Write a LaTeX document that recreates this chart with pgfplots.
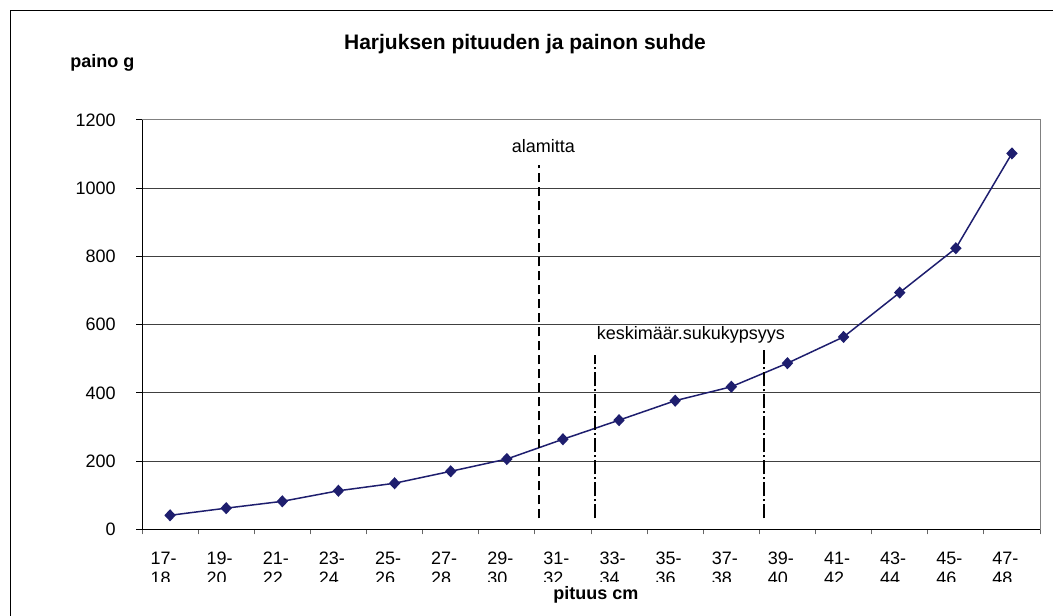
\documentclass[border=0pt]{standalone}
\usepackage{pgfplots}
\pgfplotsset{compat=1.18}
\usepackage{fontspec}
\setmainfont{Liberation Sans}
\definecolor{navy}{RGB}{30,30,110}
\begin{document}
\begin{tikzpicture}[x=0.5pt,y=0.5pt]
\clip (0,0) rectangle (1053,615);
\begin{axis}[
  at={(71pt,42.85pt)}, anchor=south west,
  scale only axis, width=449pt, height=204.65pt,
  xmin=0.5, xmax=16.5, ymin=0, ymax=1200,
  axis line style={draw=black!50, line width=0.5pt},
  xtick pos=bottom, ytick pos=left,
  tick align=outside, major tick length=3pt, minor tick length=2.5pt,
  xtick={1,...,16},
  xticklabels={{17-\\18},{19-\\20},{21-\\22},{23-\\24},{25-\\26},{27-\\28},{29-\\30},{31-\\32},{33-\\34},{35-\\36},{37-\\38},{39-\\40},{41-\\42},{43-\\44},{45-\\46},{47-\\48}},
  major x tick style={draw=none},
  minor xtick={0.5,1.5,...,16.5},
  minor x tick style={draw=black!60, line width=0.5pt},
  ytick={0,200,...,1200},
  major y tick style={draw=black, line width=0.5pt},
  ymajorgrids, grid style={black!75, line width=0.5pt},
  yticklabel style={anchor=east, inner sep=0pt, font=\fontsize{9}{10}\selectfont, xshift=-10pt},
  xticklabel style={anchor=north, inner sep=0pt, align=left, font=\fontsize{9}{10}\selectfont, xshift=-3.25pt, yshift=-8pt},
  /pgf/number format/assume math mode=true,
  /pgf/number format/1000 sep={},
  clip=false,
]
\addplot[navy, line width=0.75pt, mark=diamond*, mark size=2.5pt, mark options={xscale=1.25, fill=navy, solid}]
coordinates {(1,41) (2,62) (3,82) (4,113) (5,135) (6,170) (7,206) (8,264) (9,320) (10,377) (11,418) (12,487) (13,564) (14,694) (15,824) (16,1102)};
\addplot[black, line width=1pt, dash pattern=on 4.5pt off 2.5pt] coordinates {(7.58,32) (7.58,1068)};
\addplot[black, line width=1pt, dash pattern=on 7pt off 1.5pt on 1pt off 1.5pt] coordinates {(8.57,32) (8.57,511)};
\addplot[black, line width=1pt, dash pattern=on 7pt off 1.5pt on 1pt off 1.5pt] coordinates {(11.59,32) (11.59,531)};
\node[anchor=base, inner sep=0pt, font=\fontsize{9}{10}\selectfont] at (axis cs:7.65,1104) {alamitta};
\node[anchor=base, inner sep=0pt, font=\fontsize{9}{10}\selectfont] at (axis cs:10.28,557) {keskimäär.sukukypsyys};
\draw[black!50, line width=0.5pt] (rel axis cs:0,1) -- (rel axis cs:1,1) -- (rel axis cs:1,0);
\draw[black, line width=0.5pt] (rel axis cs:0,1) -- (rel axis cs:0,0) -- (rel axis cs:1,0);
\end{axis}
\fill[white] (11.2,0) rectangle (1053,33);
\draw[black, line width=0.6pt] (10.7,-5) -- (10.7,604.3) -- (1060,604.3);
\node[anchor=base, inner sep=0pt, font=\bfseries\fontsize{10.5}{12}\selectfont] at (525,565) {Harjuksen pituuden ja painon suhde};
\node[anchor=base west, inner sep=0pt, font=\bfseries\fontsize{9}{10}\selectfont] at (70,547) {paino g};
\node[anchor=base west, inner sep=0pt, font=\bfseries\fontsize{9}{10}\selectfont] at (553,16) {pituus cm};
\end{tikzpicture}
\end{document}
